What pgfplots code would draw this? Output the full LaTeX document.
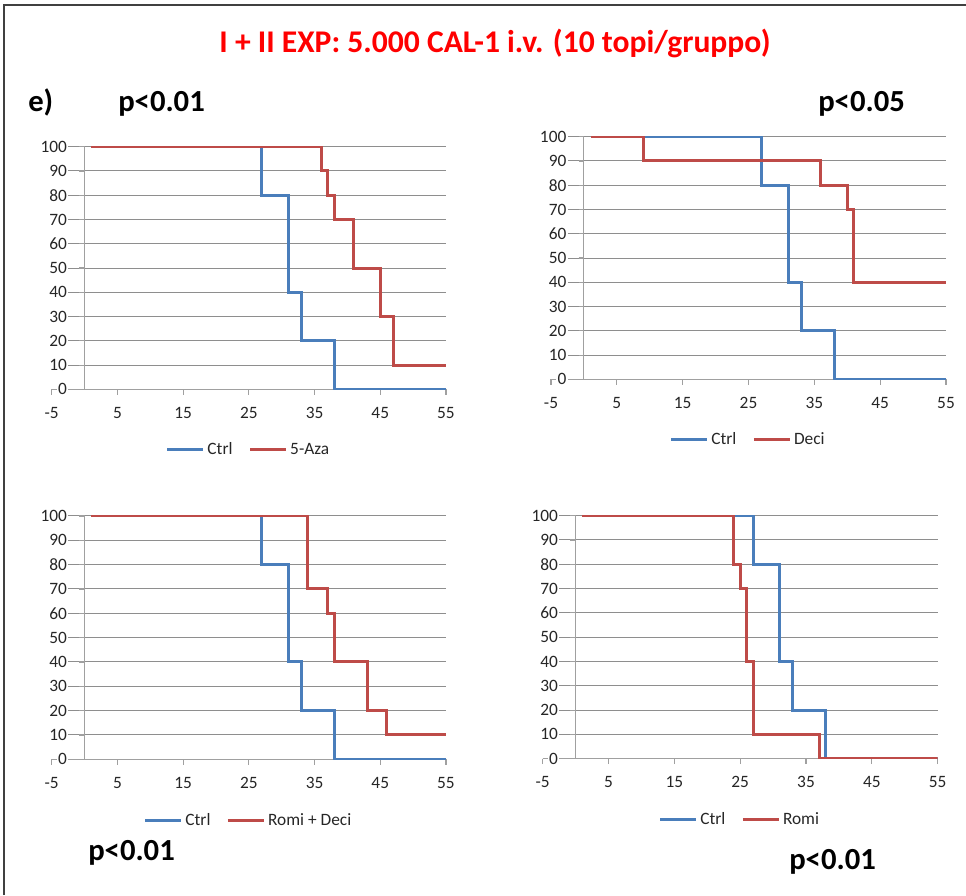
\documentclass[border=0pt]{standalone}
\usepackage{fontspec}
\setmainfont{Carlito}
\usepackage{pgfplots}
\pgfplotsset{compat=1.18}
\definecolor{ctrlblue}{HTML}{4A7EBB}
\definecolor{trtred}{HTML}{BE4B48}
\definecolor{gridgray}{HTML}{8E8E8E}
\definecolor{axisgray}{HTML}{A0A0A0}
\definecolor{ticktext}{HTML}{262626}
\pgfplotsset{
  km/.style={
    scale only axis,
    xmin=-5, xmax=55, ymin=0, ymax=100,
    axis lines=middle,
    axis line style={-, axisgray, line width=0.8pt},
    xtick={-5,5,15,25,35,45,55},
    ytick={0,10,20,30,40,50,60,70,80,90,100},
    hide obscured x ticks=false,
    hide obscured y ticks=false,
    tick align=outside,
    major tick length=4pt,
    tick style={axisgray, line width=0.8pt},
    ymajorgrids,
    grid style={gridgray, line width=0.75pt},
    /pgf/number format/assume math mode=true,
    ticklabel style={font=\fontsize{13}{15}\selectfont, text=ticktext},
    xticklabel style={anchor=north, yshift=-6pt},
    yticklabel style={anchor=east, xshift=-8pt, fill=white, inner sep=1pt},
    legend style={draw=none, fill=none, at={(0.5,-0.25)}, anchor=center,
      font=\fontsize{13}{15}\selectfont, text=ticktext,
      /tikz/every even column/.append style={column sep=10pt}},
    legend columns=2,
    legend cell align=left,
    legend image code/.code={\draw[##1, line width=2.25pt] (0pt,0pt) -- (27pt,0pt);},
    every axis plot/.append style={const plot, line width=2.25pt, line join=miter},
  }
}
\begin{document}
\begin{tikzpicture}
\useasboundingbox (0pt,0pt) rectangle (724.5pt,-671.25pt);
\draw[line width=1.1pt, black!75] (3pt,-671.25pt) -- (3pt,-3.75pt) -- (724.5pt,-3.75pt);

% Panel 1
\begin{axis}[km, at={(38.78pt,-291.98pt)}, anchor=south west, width=295.7pt, height=181.95pt]
\addplot[ctrlblue] coordinates {(1,100) (27,80) (31,40) (33,20) (38,0) (55,0)};
\addlegendentry{Ctrl}
\addplot[trtred] coordinates {(1,100) (36,90) (37,80) (38,70) (41,50) (45,30) (47,10) (55,10)};
\addlegendentry{5-Aza}
\end{axis}

% Panel 2
\begin{axis}[km, at={(413.25pt,-284.48pt)}, anchor=south west, width=296.25pt, height=181.95pt]
\addplot[ctrlblue] coordinates {(1,100) (27,80) (31,40) (33,20) (38,0) (55,0)};
\addlegendentry{Ctrl}
\addplot[trtred] coordinates {(1,100) (9,90) (36,80) (40,70) (41,40) (55,40)};
\addlegendentry{Deci}
\end{axis}

% Panel 3
\begin{axis}[km, at={(38.78pt,-569.48pt)}, anchor=south west, width=295.7pt, height=182.5pt]
\addplot[ctrlblue] coordinates {(1,100) (27,80) (31,40) (33,20) (38,0) (55,0)};
\addlegendentry{Ctrl}
\addplot[trtred] coordinates {(1,100) (34,70) (37,60) (38,40) (43,20) (46,10) (55,10)};
\addlegendentry{Romi + Deci}
\end{axis}

% Panel 4
\begin{axis}[km, at={(407.0pt,-569.0pt)}, anchor=south west, width=296.25pt, height=182.25pt]
\addplot[ctrlblue] coordinates {(1,100) (27,80) (31,40) (33,20) (38,0) (55,0)};
\addlegendentry{Ctrl}
\addplot[trtred] coordinates {(1,100) (24,80) (25,70) (26,40) (27,10) (37,0) (55,0)};
\addlegendentry{Romi}
\end{axis}

\node[anchor=base, text=red, font=\bfseries\fontsize{23.7}{28}\selectfont, inner sep=0pt] at (371.25pt,-39.4pt) {I + II EXP: 5.000 CAL-1 i.v. (10 topi/gruppo)};
\node[anchor=base west, font=\bfseries\fontsize{23}{27}\selectfont, inner sep=0pt] at (21pt,-84pt) {e)};
\node[anchor=base west, font=\bfseries\fontsize{23}{27}\selectfont, inner sep=0pt] at (88.5pt,-84pt) {p<0.01};
\node[anchor=base west, font=\bfseries\fontsize{23}{27}\selectfont, inner sep=0pt] at (613.5pt,-84pt) {p<0.05};
\node[anchor=base west, font=\bfseries\fontsize{23}{27}\selectfont, inner sep=0pt] at (66pt,-645pt) {p<0.01};
\node[anchor=base west, font=\bfseries\fontsize{23}{27}\selectfont, inner sep=0pt] at (591.75pt,-651.75pt) {p<0.01};
\end{tikzpicture}
\end{document}
